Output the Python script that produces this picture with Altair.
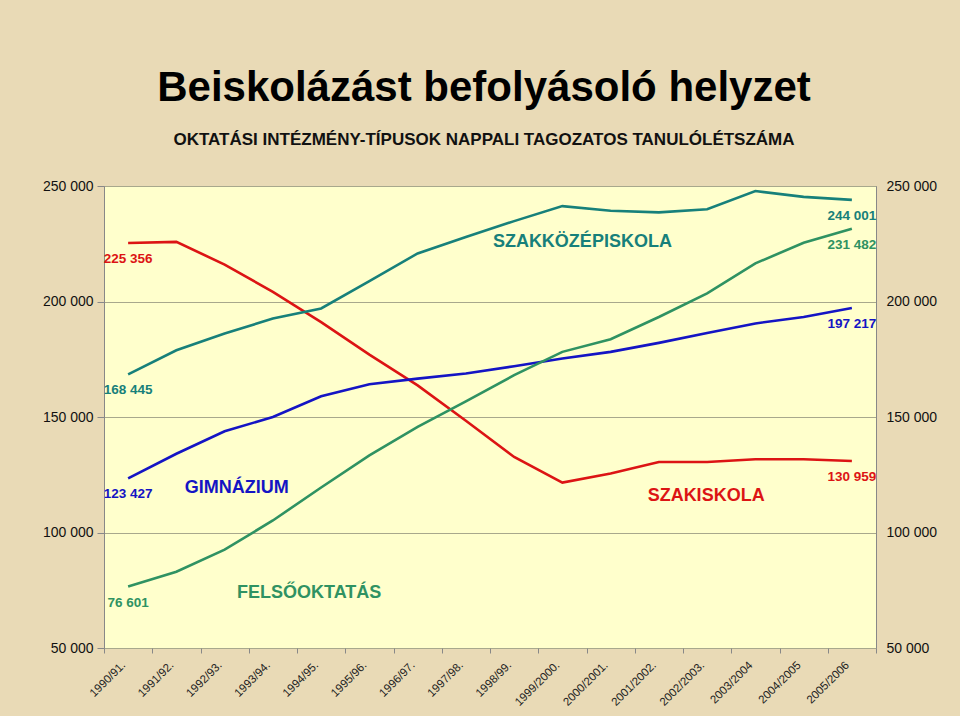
import altair as alt
import pandas as pd

years = ["1990/91.", "1991/92.", "1992/93.", "1993/94.", "1994/95.", "1995/96.",
         "1996/97.", "1997/98.", "1998/99.", "1999/2000.", "2000/2001.", "2001/2002.",
         "2002/2003.", "2003/2004", "2004/2005", "2005/2006"]

szakiskola = [225356, 225800, 216000, 204200, 191100, 177000, 163700, 148400,
              132700, 121600, 125500, 130500, 130500, 131700, 131700, 130959]
szakkozep = [168445, 178900, 186100, 192600, 197000, 208800, 220800, 227900,
             234800, 241300, 239300, 238600, 239900, 247800, 245300, 244001]
gimnazium = [123427, 134100, 143800, 150000, 159000, 164200, 166600, 168800,
             172000, 175300, 178200, 182100, 186400, 190500, 193300, 197217]
felso = [76601, 83000, 92600, 105200, 119500, 133400, 145700, 156800,
         168100, 178200, 183700, 193300, 203500, 216500, 225400, 231482]

series_names = ["SZAKISKOLA", "SZAKKÖZÉPISKOLA", "GIMNÁZIUM", "FELSŐOKTATÁS"]
series_values = [szakiskola, szakkozep, gimnazium, felso]
series_colors = ["#dc1414", "#17807a", "#1414c4", "#2f9262"]

y_ticks = [50000, 100000, 150000, 200000, 250000]

# annotation: series name, anchor category, anchor value, horizontal shift
annot_names = ["SZAKISKOLA", "SZAKKÖZÉPISKOLA", "GIMNÁZIUM", "FELSŐOKTATÁS"]
annot_year = ["2002/2003.", "1999/2000.", "1992/93.", "1994/95."]
annot_value = [115650, 225700, 119100, 73600]
annot_dx = [-1, 20, 12, -12]

FONT = "Liberation Sans"

rows = []
for name, vals in zip(series_names, series_values):
    for i, (yr, v) in enumerate(zip(years, vals)):
        rows.append({"year": yr, "idx": i, "series": name, "value": v,
                     "edge": i == 0 or i == len(years) - 1})
df = pd.DataFrame(rows)

x_enc = alt.X("year:N", sort=years,
              scale=alt.Scale(type="band", paddingInner=0, paddingOuter=0),
              axis=alt.Axis(title=None, labelAngle=-45, tickBand="extent",
                            tickSize=5, tickColor="#888888", domain=False,
                            labelFont=FONT, labelFontSize=11.5, labelColor="#222222",
                            labelPadding=6, labelOffset=-9))
x_plain = alt.X("year:N", sort=years)
y_scale = alt.Scale(domain=[50000, 250000], nice=False, zero=False)
lab_expr = "replace(format(datum.value, ',d'), ',', ' ')"
color_map = dict(zip(series_names, series_colors))
color_enc = alt.Color("series:N", scale=alt.Scale(domain=series_names, range=series_colors),
                      legend=None)

base = alt.Chart(df)

lines = base.mark_line(strokeWidth=2.6).encode(
    x=x_enc,
    y=alt.Y("value:Q", scale=y_scale,
            axis=alt.Axis(title=None, values=y_ticks, labelExpr=lab_expr, grid=True,
                          gridColor="#a8a88c", gridWidth=1, tickSize=7,
                          tickColor="#888888", domainColor="#888888",
                          labelFont=FONT, labelFontSize=14, labelColor="#111111",
                          labelPadding=4)),
    color=color_enc,
    detail="series:N",
)

right_axis = base.mark_line(opacity=0).encode(
    x=x_plain,
    y=alt.Y("value:Q", scale=y_scale,
            axis=alt.Axis(title=None, orient="right", values=y_ticks, labelExpr=lab_expr,
                          grid=False, ticks=False, domainColor="#888888",
                          labelFont=FONT, labelFontSize=14, labelColor="#111111",
                          labelPadding=10)),
    detail="series:N",
)

value_labels = base.transform_filter("datum.edge").transform_calculate(
    txt=lab_expr
).mark_text(font=FONT, fontSize=13.5, fontWeight="bold", dy=16, align="center",
            baseline="middle").encode(
    x=x_plain,
    y=alt.Y("value:Q", axis=None),
    text="txt:N",
    color=color_enc,
)

annots = []
for name, yr, v, dx in zip(annot_names, annot_year, annot_value, annot_dx):
    adf = pd.DataFrame({"year": [yr], "value": [v], "label": [name]})
    annots.append(
        alt.Chart(adf).mark_text(font=FONT, fontSize=18, fontWeight="bold",
                                 color=color_map[name],
                                 dx=dx, align="center", baseline="middle").encode(
            x=x_plain,
            y=alt.Y("value:Q", axis=None),
            text="label:N",
        )
    )

chart = alt.layer(lines, right_axis, value_labels, *annots).resolve_scale(
    y="shared"
).resolve_axis(y="independent").properties(
    width=772,
    height=462,
    title=alt.TitleParams(
        text="Beiskolázást befolyásoló helyzet",
        subtitle="OKTATÁSI INTÉZMÉNY-TÍPUSOK NAPPALI TAGOZATOS TANULÓLÉTSZÁMA",
        font=FONT, fontSize=42, fontWeight="bold", color="#000000",
        subtitleFont=FONT, subtitleFontSize=17, subtitleFontWeight="bold",
        subtitleColor="#111111", subtitlePadding=22,
        anchor="middle", offset=30, dx=-6,
    ),
    autosize=alt.AutoSizeParams(type="none"),
    padding={"left": 104, "top": 186, "right": 84, "bottom": 68},
    background="#e9dab6",
).configure_view(fill="#ffffcc", stroke="#8c8c8c", strokeWidth=1)

chart.save("out.html", embed_options={"renderer": "svg", "actions": False})
